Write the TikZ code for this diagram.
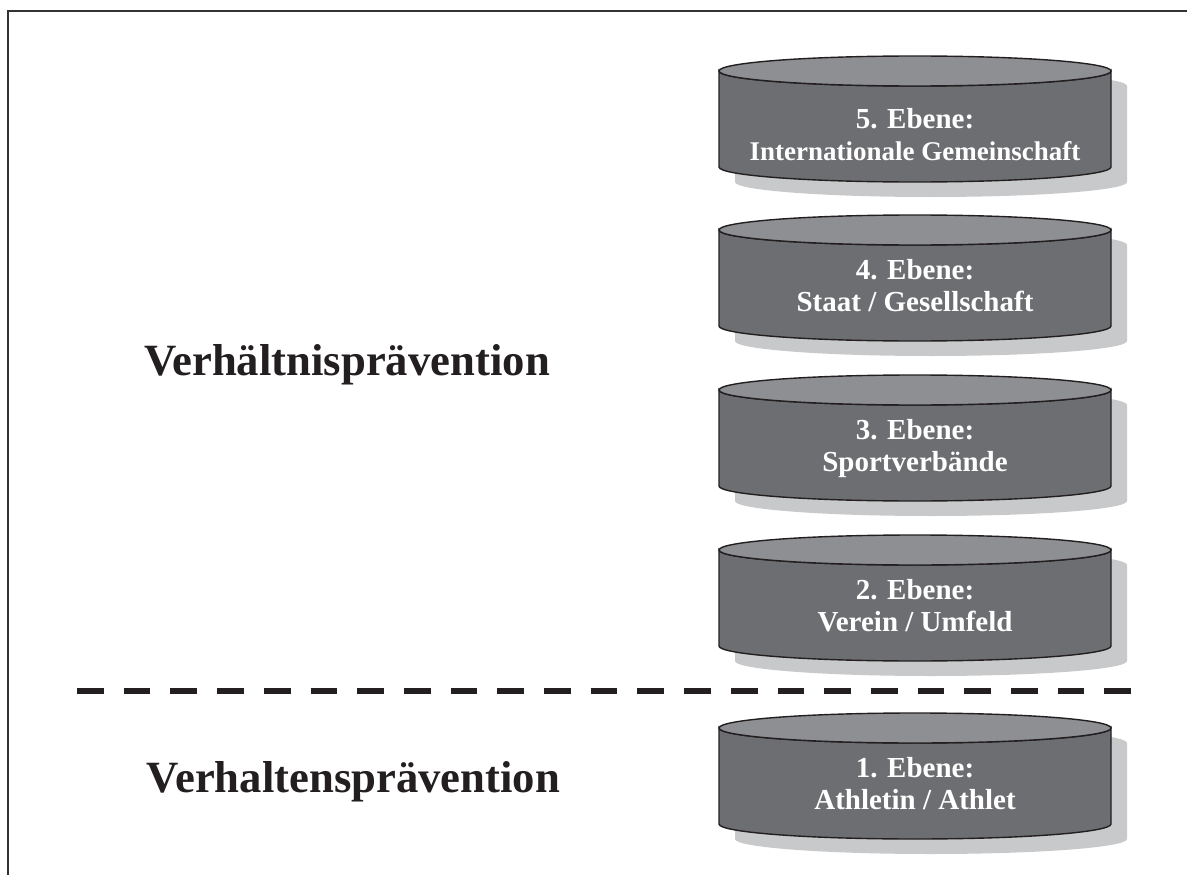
\documentclass[tikz,border=0pt]{standalone}
\usepackage{fontspec}
\setmainfont{Liberation Serif}
\usetikzlibrary{positioning}
\definecolor{topgray}{RGB}{142,143,146}
\definecolor{bodygray}{RGB}{109,110,113}
\definecolor{shadowgray}{RGB}{200,201,203}
\definecolor{inkblack}{RGB}{35,31,32}

\begin{document}
\begin{tikzpicture}[
  x=1pt, y=-1pt,
  rim/.style={draw=inkblack, line width=1.4pt},
  level/.style={inner sep=0pt, anchor=north, align=center, text=white, font=\fontsize{29}{32}\selectfont\bfseries},
  headline/.style={anchor=base, text=inkblack, font=\fontsize{44.7}{50}\selectfont\bfseries},
  divider/.style={draw=inkblack, line width=6pt, dash pattern=on 26.7pt off 20pt}
]
  \useasboundingbox (0,0) rectangle (1187,875);
  % frame (cut off at the right and at the bottom)
  \draw[line width=1.8pt, draw=black!80] (8,875) -- (8,11) -- (1187,11);

  % the five levels as cylinders with shadow
  \foreach \n/\yt/\dy/\txt in {5/71/37/{{\fontsize{27}{32}\selectfont Internationale Gemeinschaft}},
                               4/230/29/{Staat / Gesellschaft},
                               3/390/29/{Sportverbände},
                               2/550/29/{Verein / Umfeld},
                               1/728/29/{Athletin / Athlet}}{
    \fill[shadowgray] (735,\yt+15) -- (735,\yt+111) arc(180:0:196 and 15) -- (1127,\yt+15) arc(0:-180:196 and 15) -- cycle;
    \draw[rim, fill=bodygray] (719,\yt) -- (719,\yt+96) arc(180:0:196 and 15) -- (1111,\yt) arc(0:180:196 and 15) -- cycle;
    \draw[rim, fill=topgray] (915,\yt) ellipse (196 and 15);
    \node[level] (ebene\n) at (915,\yt+\dy) {\n. Ebene:\\\txt};
  }

  % border between the two kinds of prevention
  \draw[divider] (77,691) -- (1131,691);

  \node[headline] (verhaeltnis) at (347,375) {Verhältnisprävention};
  \node[headline] (verhalten) at (353.5,792) {Verhaltensprävention};
\end{tikzpicture}
\end{document}
